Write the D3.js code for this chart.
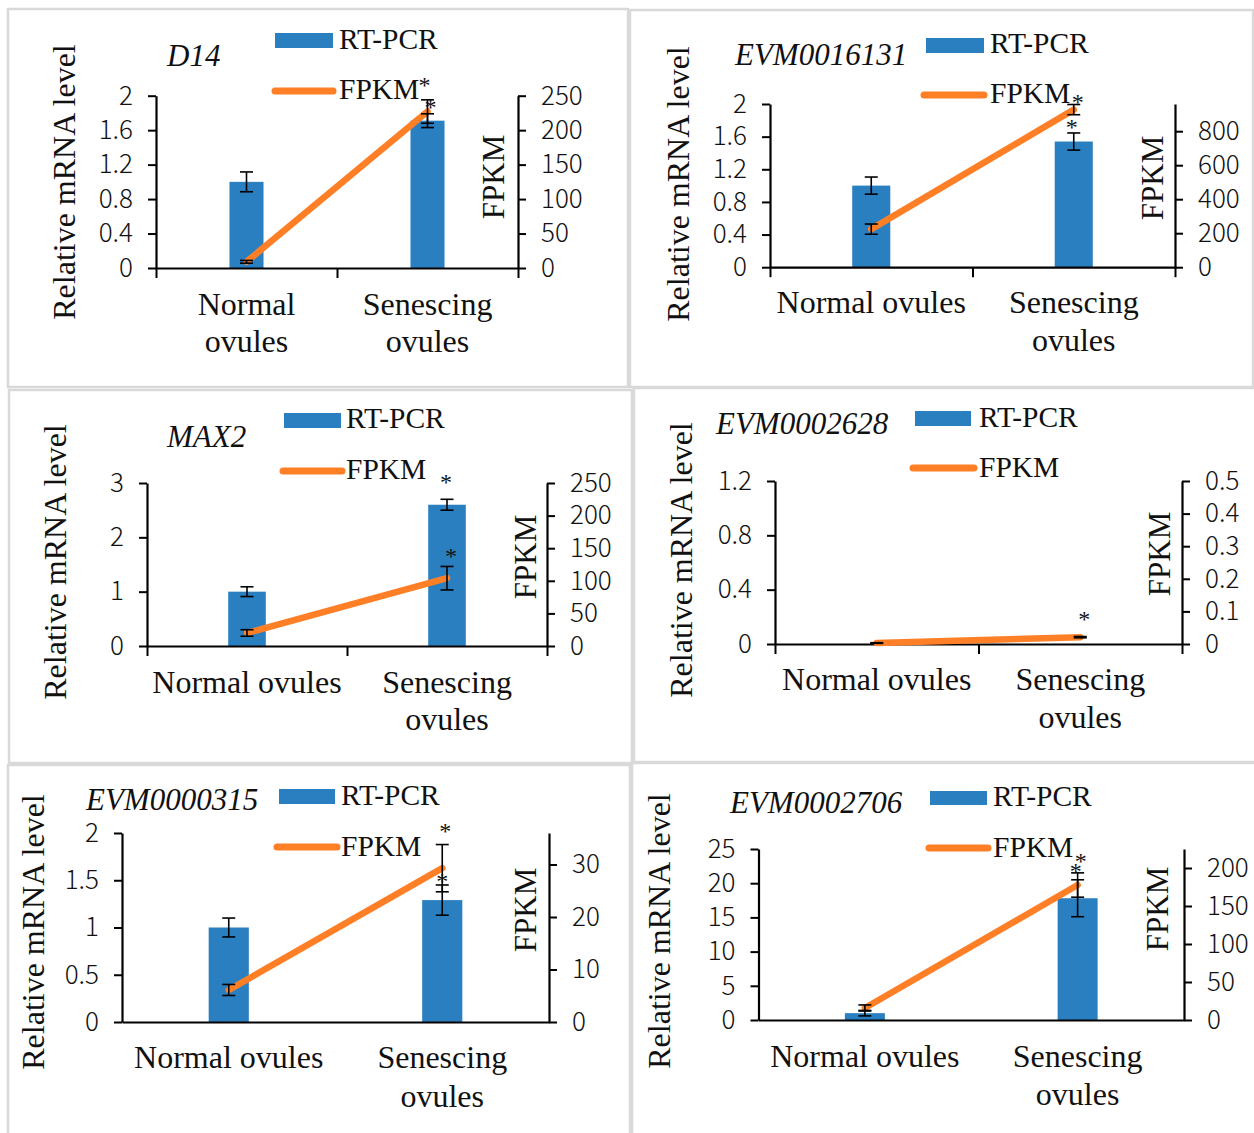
<!DOCTYPE html>
<html><head><meta charset="utf-8">
<script src="https://cdn.jsdelivr.net/npm/d3@7"></script>
<style>body{margin:0;background:#fff} svg{display:block}</style>
</head><body>
<svg id="chart" width="1254" height="1133"></svg>
<script>
// ---------------- data ----------------
const categories = ["Normal ovules", "Senescing ovules"];
const genes = ["D14", "EVM0016131", "MAX2", "EVM0002628", "EVM0000315", "EVM0002706"];
const seriesNames = ["RT-PCR", "FPKM"];
const rtValues   = [[1.0, 1.71], [1.0, 1.54], [1.0, 2.6], [0, 0], [1.0, 1.29], [1.0, 17.8]];
const rtErrors   = [[0.115, 0.08], [0.105, 0.105], [0.09, 0.1], [0, 0], [0.1, 0.16], [0.4, 2.7]];
const fpkmValues = [[9, 227], [224, 927], [20, 104], [0.003, 0.021], [6.1, 29.3], [15.8, 177.6]];
const fpkmErrors = [[2, 17], [30, 30], [5, 18], [0.001, 0.002], [1.05, 4.5], [4, 16]];
const rtSig   = [[false, true], [false, true], [false, true], [false, false], [false, true], [false, true]];
const fpkmSig = [[false, true], [false, true], [false, true], [false, true], [false, true], [false, true]];
const leftMax  = [2, 2, 3, 1.2, 2, 25];
const rightMax = [250, 960, 250, 0.5, 36, 225];
const leftTicks = [
  [0, 0.4, 0.8, 1.2, 1.6, 2], [0, 0.4, 0.8, 1.2, 1.6, 2], [0, 1, 2, 3],
  [0, 0.4, 0.8, 1.2], [0, 0.5, 1, 1.5, 2], [0, 5, 10, 15, 20, 25]];
const rightTicks = [
  [0, 50, 100, 150, 200, 250], [0, 200, 400, 600, 800], [0, 50, 100, 150, 200, 250],
  [0, 0.1, 0.2, 0.3, 0.4, 0.5], [0, 10, 20, 30], [0, 50, 100, 150, 200]];
const leftTitle = "Relative mRNA level";
const rightTitle = "FPKM";
const catLabelLines = [
  [["Normal", "ovules"], ["Senescing", "ovules"]],
  [["Normal ovules"], ["Senescing", "ovules"]],
  [["Normal ovules"], ["Senescing", "ovules"]],
  [["Normal ovules"], ["Senescing", "ovules"]],
  [["Normal ovules"], ["Senescing", "ovules"]],
  [["Normal ovules"], ["Senescing", "ovules"]]];

// ---------------- layout ----------------
const layout = [
  {box:[8,9,628,387], plot:{l:156,r:518,t:95.7,b:268}, catTicks:true,
   leg:{rx:275,ry:33,rw:58,rh:15,tx:339,t1:49,ly:91,lx1:275,lx2:333,t2:99},
   title:[167,66], yl:[75,182], yr:[504,177], cat:{b:315,gap:37},
   star:{bar:[3,-11], line:[-3,-19]}},
  {box:[630,10,1253,387], plot:{l:770,r:1175,t:104,b:267.2}, catTicks:true,
   leg:{rx:926,ry:38,rw:58,rh:15,tx:990,t1:53,ly:95,lx1:924,lx2:984,t2:103},
   title:[735,65], yl:[689,184], yr:[1163,178], cat:{b:313,gap:38},
   star:{bar:[-2,-10], line:[4,-7]}},
  {box:[9,390,632,763], plot:{l:147,r:547,t:483,b:646}, catTicks:true,
   leg:{rx:284,ry:413,rw:57,rh:15,tx:346,t1:428,ly:471,lx1:283,lx2:342,t2:479},
   title:[167,447], yl:[66,562], yr:[536,557], cat:{b:693,gap:37},
   star:{bar:[-1,-21], line:[4,-14.5]}},
  {box:[634,388,1256,762], plot:{l:775,r:1182,t:481,b:644}, catTicks:true,
   leg:{rx:915,ry:411,rw:56,rh:15,tx:979,t1:427,ly:468,lx1:913,lx2:974,t2:477},
   title:[716,434], yl:[692,560], yr:[1170,554], cat:{b:690,gap:38},
   star:{bar:[0,-10], line:[4,-21.5]}},
  {box:[8,765,630,1136], plot:{l:122,r:549,t:833,b:1022}, catTicks:false,
   leg:{rx:279,ry:789,rw:56,rh:15,tx:341,t1:805,ly:847,lx1:277,lx2:337,t2:856},
   title:[86,810], yl:[44,932], yr:[536,910], cat:{b:1068,gap:39},
   star:{bar:[0,-8], line:[3,-17.5]}},
  {box:[632,763,1256,1136], plot:{l:758.5,r:1184,t:849,b:1020}, catTicks:false,
   leg:{rx:930,ry:791,rw:57,rh:14,tx:993,t1:806,ly:848,lx1:929,lx2:988,t2:857},
   title:[730,813], yl:[670,931], yr:[1168,909], cat:{b:1067,gap:38},
   star:{bar:[-2,-13], line:[3,-16]}}
];

const SERIF = "'Liberation Serif','Times New Roman',serif";
const SANS = "'Noto Sans CJK SC','Noto Sans',sans-serif";
const BLUE = "#2a7fc1", ORANGE = "#ff7f27", GRID = "#d9d9d9";

const svg = d3.select("#chart");
svg.append("rect").attr("width",1254).attr("height",1133).attr("fill","#fff");

genes.forEach((gene, i) => {
  const L = layout[i], P = L.plot;
  const g = svg.append("g");
  g.append("rect").attr("x",L.box[0]).attr("y",L.box[1])
    .attr("width",L.box[2]-L.box[0]).attr("height",L.box[3]-L.box[1])
    .attr("fill","#fff").attr("stroke",GRID).attr("stroke-width",2.5);

  const x = d3.scaleBand().domain(categories).range([P.l, P.r]).paddingInner(0.812).paddingOuter(0.406);
  const xEdge = d3.scaleLinear().domain([0, categories.length]).range([P.l, P.r]);
  const yL = d3.scaleLinear().domain([0, leftMax[i]]).range([P.b, P.t]);
  const yR = d3.scaleLinear().domain([0, rightMax[i]]).range([P.b, P.t]);
  const cx = c => x(c) + x.bandwidth()/2;

  // bars
  g.selectAll(".bar").data(categories).join("rect")
    .attr("x", c => x(c)).attr("width", x.bandwidth())
    .attr("y", (c,j) => yL(rtValues[i][j]))
    .attr("height", (c,j) => P.b - yL(rtValues[i][j]))
    .attr("fill", BLUE);

  // axes
  const styleAxis = (sel) => {
    sel.selectAll("path.domain").attr("stroke","#000").attr("stroke-width",2.2);
    sel.selectAll(".tick line").attr("stroke","#000").attr("stroke-width",2);
    sel.selectAll(".tick text").attr("font-family",SANS).attr("font-weight",300)
      .attr("font-size",26).attr("fill","#111");
  };
  g.append("g").attr("transform",`translate(${P.l},0)`)
    .call(d3.axisLeft(yL).tickValues(leftTicks[i]).tickFormat(d => String(d)).tickSize(8).tickSizeOuter(0).tickPadding(15))
    .call(styleAxis);
  g.append("g").attr("transform",`translate(${P.r},0)`)
    .call(d3.axisRight(yR).tickValues(rightTicks[i]).tickFormat(d => String(d)).tickSize(8).tickSizeOuter(0).tickPadding(15))
    .call(styleAxis);
  g.append("g").attr("transform",`translate(0,${P.b})`)
    .call(d3.axisBottom(xEdge).tickValues(L.catTicks ? d3.range(categories.length+1) : []).tickFormat("").tickSize(10).tickSizeOuter(0))
    .call(styleAxis);

  // FPKM line
  const line = d3.line().x((d,j) => cx(categories[j])).y(d => yR(d));
  g.append("path").datum(fpkmValues[i]).attr("d", line)
    .attr("fill","none").attr("stroke",ORANGE).attr("stroke-width",6.5).attr("stroke-linecap","round");

  // error bars
  const errBar = (vals, errs, scale) => {
    categories.forEach((c, j) => {
      if (!errs[j]) return;
      const xc = cx(c), y1 = scale(vals[j] + errs[j]), y2 = scale(Math.max(0, vals[j] - errs[j]));
      g.append("line").attr("x1",xc).attr("x2",xc).attr("y1",y1).attr("y2",y2).attr("stroke","#000").attr("stroke-width",1.6);
      [y1, y2].forEach(yy => g.append("line").attr("x1",xc-6.5).attr("x2",xc+6.5).attr("y1",yy).attr("y2",yy).attr("stroke","#000").attr("stroke-width",1.6));
    });
  };
  errBar(rtValues[i], rtErrors[i], yL);
  errBar(fpkmValues[i], fpkmErrors[i], yR);

  // significance stars
  const star = (vals, errs, sig, scale, off) => {
    categories.forEach((c, j) => {
      if (!sig[j]) return;
      g.append("text").attr("x", cx(c) + off[0]).attr("y", scale(vals[j] + errs[j]) + off[1] + 12)
        .attr("text-anchor","middle").attr("font-family",SERIF).attr("font-size",24).attr("fill","#111").text("*");
    });
  };
  star(rtValues[i], rtErrors[i], rtSig[i], yL, L.star.bar);
  star(fpkmValues[i], fpkmErrors[i], fpkmSig[i], yR, L.star.line);

  // legend
  const lg = L.leg;
  g.append("rect").attr("x",lg.rx).attr("y",lg.ry).attr("width",lg.rw).attr("height",lg.rh).attr("fill",BLUE);
  g.append("text").attr("x",lg.tx).attr("y",lg.t1).attr("font-family",SERIF).attr("font-size",29.5).attr("fill","#111").text(seriesNames[0]);
  g.append("line").attr("x1",lg.lx1).attr("x2",lg.lx2).attr("y1",lg.ly).attr("y2",lg.ly)
    .attr("stroke",ORANGE).attr("stroke-width",7).attr("stroke-linecap","round");
  g.append("text").attr("x",lg.tx).attr("y",lg.t2).attr("font-family",SERIF).attr("font-size",29.5).attr("fill","#111").text(seriesNames[1]);

  // title
  g.append("text").attr("x",L.title[0]).attr("y",L.title[1]).attr("font-family",SERIF).attr("font-style","italic")
    .attr("font-size",31).attr("fill","#111").text(gene);

  // axis titles
  g.append("text").attr("transform",`translate(${L.yl[0]},${L.yl[1]}) rotate(-90)`).attr("text-anchor","middle")
    .attr("font-family",SERIF).attr("font-size",32).attr("fill","#111").text(leftTitle);
  g.append("text").attr("transform",`translate(${L.yr[0]},${L.yr[1]}) rotate(-90)`).attr("text-anchor","middle")
    .attr("font-family",SERIF).attr("font-size",31).attr("fill","#111").text(rightTitle);

  // category labels
  categories.forEach((c, j) => {
    catLabelLines[i][j].forEach((t, k) => {
      g.append("text").attr("x", cx(c)).attr("y", L.cat.b + k*L.cat.gap).attr("text-anchor","middle")
        .attr("font-family",SERIF).attr("font-size",32).attr("fill","#111").text(t);
    });
  });
});
</script>
</body></html>
